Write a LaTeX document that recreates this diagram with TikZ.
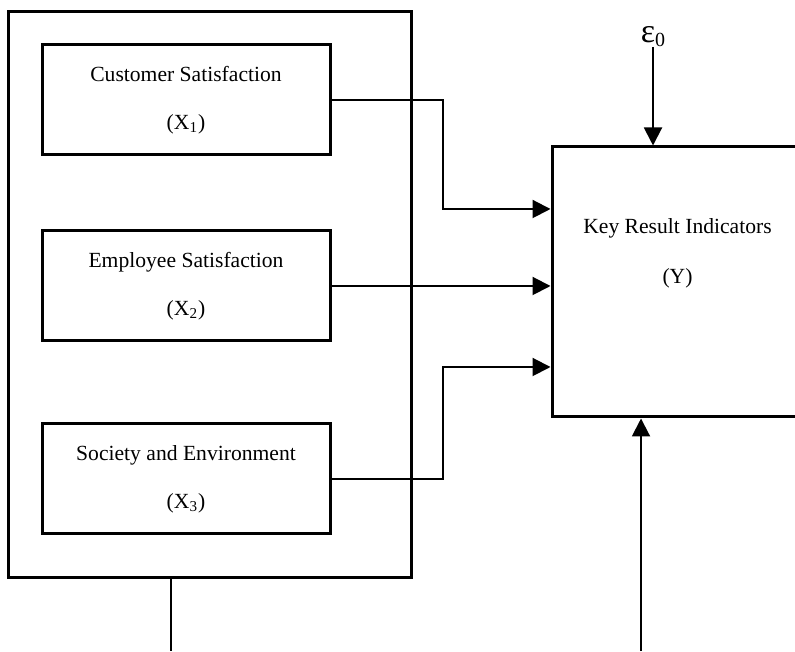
\documentclass[tikz,border=0pt]{standalone}
\usepackage{fontspec}
\setmainfont{Liberation Serif}
\usetikzlibrary{arrows.meta,positioning}

\begin{document}
\begin{tikzpicture}[
x=0.5pt, y=0.5pt,
node distance=36.5pt,
frame/.style={draw, line width=1.5pt, inner sep=0pt},
var/.style={draw, line width=1.5pt, align=center, minimum width=144pt, minimum height=55pt, font=\fontsize{10.8}{24}\selectfont},
arrow/.style={-{Triangle[length=9pt,width=9pt]}, line width=1pt},
link/.style={line width=1pt}
]
\useasboundingbox (0,0) rectangle (795,651);
\clip (0,0) rectangle (795,651);
\node[frame, minimum width=201.5pt, minimum height=283pt] (group) at (209.5,356) {};
\node[var] (cs) at (186,551) {Customer Satisfaction\\(X\textsubscript{1})};
\node[var, below=of cs] (es) {Employee Satisfaction\\(X\textsubscript{2})};
\node[var, below=40pt of es] (se) {Society and Environment\\(X\textsubscript{3})};
\node[frame, minimum width=125.5pt, minimum height=135pt] (kri) at (677.5,369) {};
\node[align=center, font=\fontsize{10.8}{25}\selectfont] (kritext) at (677.5,398) {Key Result Indicators\\(Y)};
\node[anchor=south, inner sep=0pt, font=\fontsize{17}{20}\selectfont] (eps) at (653,604) {ε\raisebox{-2pt}{\fontsize{10}{12}\selectfont 0}};
\coordinate (gbase) at (171,0);
\coordinate (ybase) at (641,0);

% inputs into the result box
\draw[arrow] (cs.east) -- ++(55.5pt,0) |- ([yshift=36.5pt]kri.west);
\draw[arrow] (es.east) -- (kri.west |- es.east);
\draw[arrow] (se.east) -- ++(55.5pt,0) |- ([yshift=-42.5pt]kri.west);
\draw[arrow] (eps.south) -- (kri.north -| eps.south);
\draw[arrow] (ybase) -- (kri.south -| ybase);
\draw[link] (group.south -| gbase) -- (gbase);
\end{tikzpicture}
\end{document}
